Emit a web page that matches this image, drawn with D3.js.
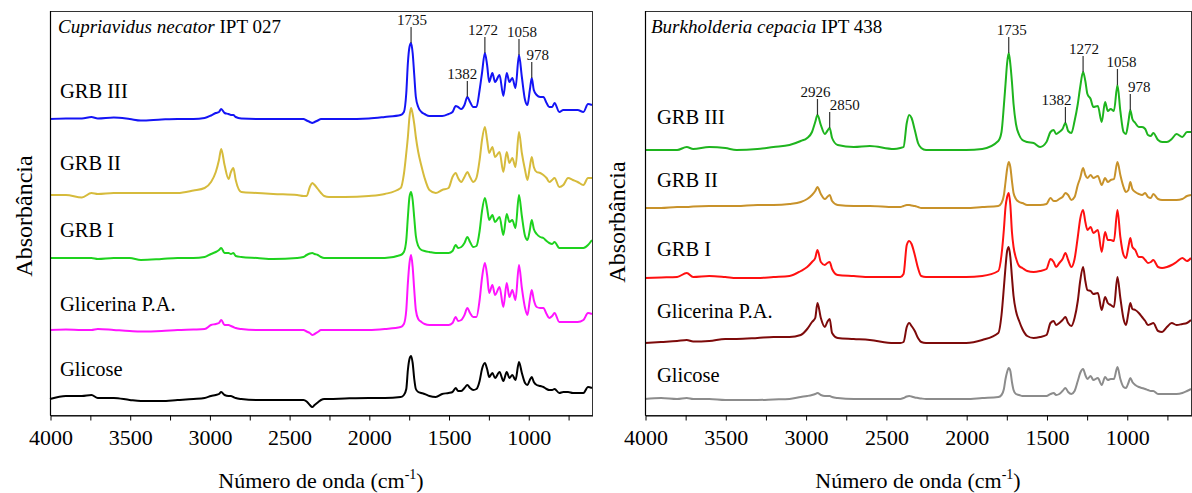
<!DOCTYPE html>
<html>
<head>
<meta charset="utf-8">
<script src="https://cdn.jsdelivr.net/npm/d3@7"></script>
<style>
  body { margin: 0; background: #fff; }
  svg { display: block; font-family: "Liberation Serif", "Times New Roman", serif; }
</style>
</head>
<body>
<svg id="chart" width="1192" height="493"></svg>
<script>
// Shared wavenumber grid (cm-1) on which every spectrum is sampled
const wavenumbers = [
  4000, 3900, 3800, 3740, 3700, 3600, 3500, 3430, 3300, 3200,
  3100, 3030, 2990, 2960, 2940, 2926, 2905, 2880, 2865, 2850,
  2835, 2800, 2700, 2600, 2450, 2410, 2390, 2370, 2355, 2340,
  2320, 2300, 2280, 2250, 2150, 2000, 1900, 1800, 1780, 1765,
  1755, 1745, 1735, 1725, 1715, 1705, 1690, 1670, 1650, 1620,
  1580, 1540, 1500, 1475, 1455, 1440, 1420, 1400, 1382, 1365,
  1345, 1325, 1305, 1290, 1272, 1258, 1245, 1225, 1208, 1180,
  1156, 1135, 1118, 1100, 1080, 1058, 1040, 1020, 1005, 990,
  978, 965, 947, 925, 905, 885, 868, 850, 835, 805,
  780, 750, 720, 690, 654, 625, 600
];

const sampleNames = ["GRB III", "GRB II", "GRB I", "Glicerina P.A.", "Glicose"];

// Axis ticks (every 250 cm-1) and the labelled ones
const tickValues = [4000, 3750, 3500, 3250, 3000, 2750, 2500, 2250, 2000, 1750, 1500, 1250, 1000, 750];
const tickLabels = [4000, 3500, 3000, 2500, 2000, 1500, 1000];

// ---- Cupriavidus necator IPT 027 : vertical offsets and spectra (a.u., relative to offset)
const cupriOffsets = [2.96, 2.20, 1.57, 0.85, 0.16];

const cupriGRB3 = [
  0, .005, .005, .02, .005, .015, 0, -.015, -.005, 0,
  0, .01, .035, .06, .07, .10, .06, .05, .04, .04,
  .02, .005, 0, 0, 0, 0, -.015, -.03, -.04, -.03,
  -.015, 0, 0, 0, 0, .005, .02, .04, .07, .26,
  .56, .72, .76, .66, .44, .22, .12, .07, .05, .03,
  .03, .03, .05, .07, .13, .12, .10, .14, .22, .17,
  .12, .12, .29, .46, .66, .54, .37, .46, .37, .44,
  .23, .46, .37, .41, .31, .64, .42, .19, .14, .29,
  .41, .29, .24, .22, .22, .16, .12, .12, .16, .07,
  .09, .09, .09, .09, .07, .15, .14
];
const cupriGRB2 = [
  0, 0, -.025, .02, .01, .02, .02, .02, .02, .02,
  .045, .07, .13, .23, .35, .46, .30, .16, .23, .27,
  .15, .03, .02, .01, 0, -.01, -.01, .08, .12, .10,
  .06, .02, -.01, -.02, -.02, -.01, .01, .07, .21, .42,
  .58, .78, .87, .81, .71, .58, .43, .29, .17, .05,
  .02, .05, .07, .18, .22, .17, .13, .18, .23, .18,
  .13, .17, .35, .55, .68, .55, .42, .48, .38, .43,
  .23, .43, .32, .37, .28, .63, .42, .25, .15, .28,
  .38, .28, .23, .22, .20, .17, .13, .15, .17, .08,
  .10, .17, .15, .13, .10, .17, .17
];
const cupriGRB1 = [
  0, 0, 0, 0, -.01, 0, 0, -.02, -.01, 0,
  0, .01, .04, .06, .08, .10, .05, .05, .04, .05,
  .02, .01, 0, -.01, 0, .01, .03, .045, .05, .04,
  .03, .01, 0, 0, 0, 0, 0, .03, .06, .18,
  .41, .61, .66, .58, .40, .22, .12, .08, .07, .06,
  .05, .05, .05, .07, .13, .10, .11, .15, .21, .16,
  .11, .12, .27, .47, .60, .50, .38, .43, .36, .41,
  .23, .44, .36, .38, .30, .63, .42, .22, .18, .28,
  .38, .29, .24, .21, .20, .17, .15, .14, .16, .10,
  .10, .10, .10, .10, .10, .13, .18
];
const cupriGlicerina = [
  0, .005, 0, 0, .01, 0, -.01, -.015, -.01, 0,
  .005, .01, .05, .06, .07, .10, .05, .05, .04, .03,
  .02, .01, 0, 0, 0, 0, -.015, -.03, -.05, -.04,
  -.02, 0, 0, 0, 0, 0, .01, .03, .06, .20,
  .47, .67, .75, .63, .40, .20, .11, .08, .06, .05,
  .05, .05, .05, .07, .13, .09, .10, .15, .22, .17,
  .13, .13, .30, .52, .67, .55, .37, .45, .35, .43,
  .23, .47, .33, .40, .30, .65, .42, .22, .15, .30,
  .40, .30, .23, .22, .22, .16, .12, .14, .17, .08,
  .08, .08, .08, .08, .10, .17, .16
];
const cupriGlicose = [
  0, .03, .03, .04, .01, .01, -.01, -.02, -.02, -.01,
  0, .01, .03, .04, .05, .07, .04, .03, .03, .02,
  .01, 0, -.01, -.01, -.01, -.01, -.025, -.06, -.08, -.06,
  -.035, -.01, 0, 0, .005, .01, .01, .02, .04, .10,
  .29, .40, .43, .36, .20, .10, .07, .06, .05, .03,
  .02, .05, .06, .07, .11, .08, .08, .11, .14, .11,
  .09, .10, .18, .30, .36, .30, .22, .26, .21, .27,
  .18, .27, .21, .24, .19, .37, .26, .16, .14, .19,
  .22, .17, .14, .13, .12, .10, .09, .09, .10, .06,
  .07, .07, .06, .06, .06, .12, .11
];
const cupriPeaks = [1735, 1382, 1272, 1058, 978];

// ---- Burkholderia cepacia IPT 438
const burkOffsets = [2.66, 2.08, 1.38, 0.72, 0.16];

const burkGRB3 = [
  -.01, -.01, -.01, .02, 0, .02, .01, -.01, 0, .02,
  .04, .08, .11, .17, .27, .34, .24, .15, .18, .21,
  .11, .04, .02, .03, 0, .01, .02, .26, .34, .31,
  .19, .06, .01, -.01, -.01, -.01, 0, .08, .17, .44,
  .65, .86, .96, .85, .67, .45, .25, .14, .09, .07,
  .06, .02, .07, .17, .19, .15, .17, .20, .26, .18,
  .16, .28, .45, .62, .77, .68, .55, .50, .42, .43,
  .27, .47, .38, .40, .38, .64, .38, .17, .15, .27,
  .39, .30, .26, .22, .22, .20, .14, .13, .16, .09,
  .07, .07, .10, .15, .12, .17, .17
];
const burkGRB2 = [
  -.01, -.01, 0, 0, .005, .01, .01, .01, .02, .02,
  .03, .05, .08, .12, .16, .20, .13, .08, .10, .12,
  .06, .02, .01, .01, 0, 0, .01, .02, .02, .015,
  .01, 0, -.01, -.01, -.01, -.01, 0, .01, .04, .12,
  .25, .38, .45, .40, .26, .14, .08, .05, .04, .02,
  .02, .02, .03, .09, .06, .06, .08, .10, .14, .12,
  .07, .10, .22, .29, .39, .32, .29, .32, .29, .31,
  .22, .29, .25, .27, .28, .45, .32, .20, .15, .17,
  .25, .18, .15, .13, .12, .14, .10, .09, .13, .08,
  .07, .07, .07, .07, .08, .11, .12
];
const burkGRB1 = [
  -.01, -.005, 0, .04, 0, .01, 0, -.01, -.01, 0,
  .01, .06, .10, .15, .19, .27, .15, .12, .14, .15,
  .08, .02, .01, 0, 0, 0, .03, .32, .36, .33,
  .22, .09, .01, 0, 0, 0, .01, .06, .22, .48,
  .70, .80, .84, .72, .45, .30, .19, .11, .09, .06,
  .05, .06, .08, .18, .15, .10, .14, .18, .24, .17,
  .10, .18, .40, .58, .67, .55, .47, .50, .44, .47,
  .25, .45, .37, .37, .36, .67, .40, .22, .19, .30,
  .39, .30, .27, .20, .20, .17, .14, .15, .17, .10,
  .09, .10, .12, .15, .19, .16, .19
];
const burkGlicerina = [
  0, .01, .02, .03, .015, .02, .04, .04, .05, .06,
  .06, .08, .14, .21, .25, .40, .25, .16, .21, .24,
  .10, .05, .04, .03, 0, 0, .01, .16, .20, .17,
  .12, .05, .01, 0, 0, 0, .03, .10, .28, .56,
  .76, .92, .96, .86, .66, .47, .32, .22, .14, .07,
  .05, .06, .08, .20, .22, .18, .20, .23, .26, .20,
  .17, .25, .42, .62, .76, .62, .53, .52, .49, .50,
  .33, .46, .40, .38, .36, .66, .45, .24, .18, .30,
  .40, .34, .33, .30, .26, .22, .18, .19, .20, .12,
  .11, .16, .20, .18, .19, .20, .23
];
const burkGlicose = [
  0, .01, 0, .01, 0, 0, -.01, -.01, -.01, -.005,
  0, .02, .03, .04, .05, .06, .04, .03, .03, .03,
  .02, .01, 0, 0, 0, 0, .01, .025, .03, .025,
  .015, .01, .005, 0, 0, 0, .01, .02, .04, .10,
  .20, .27, .31, .28, .17, .09, .05, .04, .03, .03,
  .03, .03, .03, .05, .06, .04, .05, .08, .11, .07,
  .05, .08, .18, .26, .30, .24, .20, .23, .19, .21,
  .14, .22, .19, .20, .20, .32, .20, .12, .11, .16,
  .21, .17, .14, .12, .11, .10, .09, .08, .08, .05,
  .05, .05, .05, .05, .06, .08, .10
];
const burkPeaks = [2926, 2850, 1735, 1382, 1272, 1058, 978];

// ---------------- layout ----------------
const svg = d3.select("#chart");
const plotTop = 11, plotBottom = 415;
const yMax = 4.04;

const panels = [
  {
    x0: 50, x1: 592,
    species: "Cupriavidus necator", strain: " IPT 027",
    titleX: 58, titleY: 33,
    series: [cupriGRB3, cupriGRB2, cupriGRB1, cupriGlicerina, cupriGlicose],
    offsets: cupriOffsets,
    colors: ["#1414f5", "#d6bb3c", "#1ed21e", "#ff14ff", "#000000"],
    labelX: 60, labelY: [98, 170, 237, 311, 376],
    peaks: cupriPeaks,
    peakDx: {1735: 1, 1382: -5, 1272: -2, 1058: 3, 978: 6},
    yTitle: {x: 32, y: 216}
  },
  {
    x0: 645, x1: 1191,
    species: "Burkholderia cepacia", strain: " IPT 438",
    titleX: 651, titleY: 33,
    series: [burkGRB3, burkGRB2, burkGRB1, burkGlicerina, burkGlicose],
    offsets: burkOffsets,
    colors: ["#1eb41e", "#c8922a", "#ff1010", "#7d0a0a", "#8c8c8c"],
    labelX: 657, labelY: [124, 187, 256, 318, 382],
    peaks: burkPeaks,
    peakDx: {2926: -2, 2850: 15, 1735: 3, 1382: -9, 1272: 1, 1058: 4, 978: 9},
    yTitle: {x: 625, y: 222}
  }
];

panels.forEach(p => {
  const g = svg.append("g");
  const x = d3.scaleLinear().domain([4000, 600]).range([p.x0, p.x1]);
  const y = d3.scaleLinear().domain([0, yMax]).range([plotBottom, plotTop]);

  // spectra
  const line = d3.line()
    .x(d => x(d[0]))
    .y(d => y(d[1]))
    .curve(d3.curveMonotoneX);

  p.series.forEach((vals, i) => {
    const pts = wavenumbers.map((w, k) => [w, p.offsets[i] + vals[k]]);
    g.append("path")
      .datum(pts)
      .attr("d", line)
      .attr("fill", "none")
      .attr("stroke", p.colors[i])
      .attr("stroke-width", 2)
      .attr("stroke-linejoin", "round");
  });

  // frame
  g.append("rect")
    .attr("x", p.x0 + 0.5).attr("y", plotTop + 0.5)
    .attr("width", p.x1 - p.x0).attr("height", plotBottom - plotTop)
    .attr("fill", "none").attr("stroke", "#333").attr("stroke-width", 1);
  g.append("line")
    .attr("x1", p.x0 + 0.5).attr("x2", p.x0 + 0.5)
    .attr("y1", plotTop).attr("y2", plotBottom + 0.5)
    .attr("stroke", "#000").attr("stroke-width", 1.2);

  // bottom axis
  const axis = d3.axisBottom(x)
    .tickValues(tickValues)
    .tickSize(5)
    .tickSizeOuter(0)
    .tickPadding(9)
    .tickFormat(d => tickLabels.includes(d) ? d : "");
  const ax = g.append("g")
    .attr("transform", `translate(0.5,${plotBottom + 0.5})`)
    .call(axis);
  ax.select(".domain").attr("stroke", "#000").attr("stroke-width", 1.2);
  ax.selectAll(".tick line").attr("stroke", "#000");
  ax.selectAll(".tick text")
    .attr("font-family", "Liberation Serif, Times New Roman, serif")
    .attr("font-size", 22)
    .attr("fill", "#000");

  // x title
  const xt = g.append("text")
    .attr("x", (p.x0 + p.x1) / 2).attr("y", 488)
    .attr("text-anchor", "middle")
    .attr("font-size", 22);
  xt.append("tspan").text("Número de onda (cm");
  xt.append("tspan").attr("font-size", 14).attr("dy", -9).text("-1");
  xt.append("tspan").attr("dy", 9).text(")");

  // y title
  g.append("text")
    .attr("transform", `translate(${p.yTitle.x},${p.yTitle.y}) rotate(-90)`)
    .attr("text-anchor", "middle")
    .attr("font-size", 24)
    .text("Absorbância");

  // panel title
  const tt = g.append("text")
    .attr("x", p.titleX).attr("y", p.titleY)
    .attr("font-size", 19);
  tt.append("tspan").attr("font-style", "italic").text(p.species);
  tt.append("tspan").text(p.strain);

  // sample labels
  sampleNames.forEach((name, i) => {
    g.append("text")
      .attr("x", p.labelX).attr("y", p.labelY[i])
      .attr("font-size", 20.5)
      .text(name);
  });

  // peak annotations on the top spectrum
  const topVals = p.series[0];
  p.peaks.forEach(w => {
    const k = wavenumbers.indexOf(w);
    const py = y(p.offsets[0] + topVals[k]);
    const px = x(w);
    g.append("line")
      .attr("x1", px).attr("x2", px)
      .attr("y1", py).attr("y2", py - 16)
      .attr("stroke", "#333").attr("stroke-width", 1.2);
    g.append("text")
      .attr("x", px + (p.peakDx[w] || 0)).attr("y", py - 18)
      .attr("text-anchor", "middle")
      .attr("font-size", 15)
      .attr("fill", "#111")
      .text(w);
  });
});
</script>
</body>
</html>
